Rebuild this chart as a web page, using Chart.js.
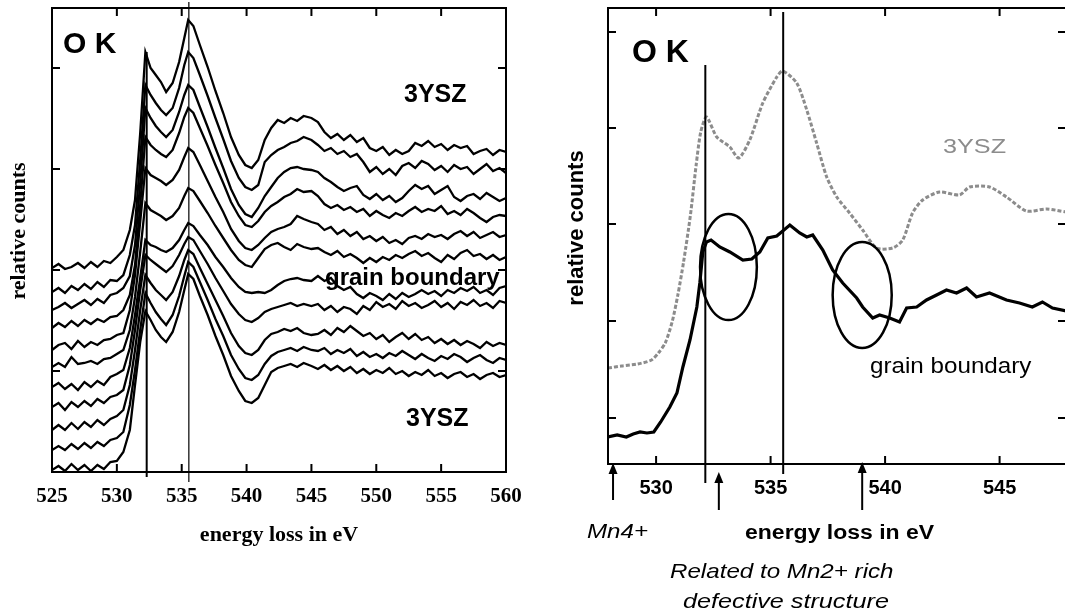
<!DOCTYPE html>
<html>
<head>
<meta charset="utf-8">
<script src="https://cdn.jsdelivr.net/npm/chart.js@4.4.1/dist/chart.umd.min.js"></script>
<style>
  html, body { margin: 0; padding: 0; background: #fff; overflow: hidden; width: 1065px; height: 615px; }
  #lineScan { position: absolute; left: 0; top: 0; }
  #compare { position: absolute; left: 550px; top: 0; }
</style>
</head>
<body>
<canvas id="lineScan" width="540" height="560"></canvas>
<canvas id="compare" width="520" height="615"></canvas>
<script>
// O K edge, line scan across the boundary (energy in eV, relative counts)
const energyGrid = [525, 525.5, 526, 526.5, 527, 527.5, 528, 528.5, 529, 529.5, 530, 530.5,
  531, 531.4, 531.8, 532.2, 532.6, 533, 533.4, 533.8, 534.3, 534.8, 535.2, 535.5,
  535.9, 536.4, 537, 537.6, 538.2, 538.8, 539.4, 539.9, 540.4,
  540.9, 541.4, 541.9, 542.4, 542.9, 543.4, 543.9, 544.4, 545,
  545.5, 546, 546.5, 547, 547.5, 548, 548.5, 549, 549.5, 550,
  550.5, 551, 551.5, 552, 552.5, 553, 553.5, 554, 554.5, 555,
  555.5, 556, 556.5, 557, 557.5, 558, 558.5, 559, 559.5, 560];

const scan1 = [232, 236, 231, 233, 237, 232, 238, 233, 239, 237, 243, 250, 270, 300, 367, 448, 432, 425, 418, 408, 417, 438, 462, 480, 474, 455, 433, 409, 387, 363, 345, 335, 332, 340, 360, 372, 380, 377, 382, 379, 384, 382,
  378, 368, 362, 366, 360, 365, 358, 362, 352, 349, 353, 345, 350, 346, 349, 357, 354, 359, 353, 356, 350, 355, 352, 354, 346, 349, 351, 345, 350, 348];
const scan2 = [208, 212, 207, 214, 210, 216, 211, 218, 213, 220, 219, 225, 245, 275, 340, 415, 405, 397, 390, 385, 392, 412, 435, 448, 442, 425, 404, 382, 361, 339, 322, 313, 310, 315, 338, 345, 350, 353, 357, 359, 363, 360,
  355, 349, 352, 346, 349, 343, 346, 338, 328, 333, 326, 331, 325, 334, 337, 332, 339, 336, 330, 334, 328, 335, 331, 333, 326, 331, 336, 329, 332, 327];
const scan3 = [190, 193, 197, 192, 196, 200, 195, 201, 197, 205, 207, 212, 224, 255, 317, 392, 382, 374, 368, 363, 370, 388, 405, 415, 410, 393, 373, 352, 332, 311, 295, 286, 283, 292, 304, 313, 322, 328, 332, 333, 331, 330,
  328, 322, 318, 313, 309, 312, 314, 305, 301, 306, 300, 304, 298, 302, 309, 315, 311, 314, 306, 310, 314, 303, 299, 304, 306, 301, 307, 303, 299, 302];
const scan4 = [172, 177, 173, 179, 174, 180, 176, 181, 178, 183, 184, 190, 205, 235, 295, 363, 355, 350, 346, 343, 350, 367, 383, 392, 387, 372, 354, 335, 317, 298, 284, 275, 273, 279, 288, 294, 298, 303, 306, 311, 308, 309,
  304, 296, 292, 295, 290, 293, 288, 291, 284, 289, 285, 282, 287, 284, 289, 293, 288, 291, 289, 294, 286, 289, 285, 291, 287, 282, 278, 283, 285, 284];
const scan5 = [150, 155, 157, 151, 159, 153, 158, 155, 160, 161, 165, 167, 190, 225, 278, 332, 325, 322, 319, 315, 320, 330, 343, 352, 348, 335, 319, 303, 288, 271, 259, 252, 250, 255, 262, 268, 271, 273, 276, 284, 281, 278,
  276, 270, 273, 266, 270, 264, 268, 261, 264, 259, 263, 257, 260, 256, 262, 264, 261, 266, 263, 265, 261, 266, 269, 264, 268, 262, 265, 268, 263, 265];
const scan6 = [133, 137, 133, 143, 136, 137, 139, 136, 141, 142, 146, 150, 170, 203, 248, 297, 290, 287, 284, 280, 284, 292, 304, 312, 309, 299, 287, 274, 262, 250, 240, 235, 233, 242, 251, 255, 257, 253, 250, 256, 253, 251,
  252, 248, 245, 249, 243, 246, 242, 237, 242, 238, 243, 240, 245, 242, 246, 249, 244, 247, 242, 238, 245, 241, 247, 250, 244, 246, 241, 245, 240, 243];
const scan7 = [113, 117, 111, 116, 110, 118, 113, 119, 115, 123, 126, 130, 152, 185, 222, 260, 255, 253, 250, 248, 252, 260, 270, 277, 274, 265, 255, 243, 233, 222, 213, 208, 207, 208, 207, 210, 215, 219, 221, 222, 220, 219,
  224, 219, 222, 214, 210, 213, 206, 202, 207, 204, 200, 206, 201, 207, 203, 206, 210, 206, 209, 204, 210, 207, 212, 209, 213, 207, 210, 205, 212, 214];
const scan8 = [93, 97, 90, 98, 93, 99, 94, 101, 97, 103, 105, 110, 135, 170, 210, 245, 240, 236, 232, 228, 234, 245, 256, 263, 260, 249, 236, 222, 209, 196, 186, 180, 178, 182, 188, 191, 193, 195, 197, 194, 196, 194,
  196, 190, 194, 188, 193, 191, 186, 194, 190, 198, 193, 196, 191, 199, 194, 197, 192, 195, 199, 193, 197, 191, 198, 195, 200, 194, 197, 192, 199, 197];
const scan9 = [70, 75, 70, 77, 71, 78, 73, 80, 75, 81, 84, 90, 115, 150, 190, 225, 217, 210, 205, 200, 208, 224, 240, 250, 246, 232, 216, 200, 184, 167, 154, 147, 145, 150, 160, 166, 168, 171, 169, 172, 167, 165,
  166, 170, 165, 172, 168, 174, 169, 164, 167, 161, 165, 158, 163, 167, 161, 166, 160, 163, 157, 161, 156, 160, 155, 159, 156, 152, 158, 154, 157, 155];
const scan10 = [50, 54, 50, 56, 51, 57, 52, 58, 54, 60, 62, 68, 95, 130, 170, 207, 197, 188, 181, 175, 185, 204, 224, 238, 233, 218, 200, 181, 164, 145, 131, 122, 120, 125, 136, 144, 148, 150, 152, 149, 153, 150,
  149, 152, 146, 150, 147, 151, 144, 148, 143, 146, 142, 147, 144, 149, 145, 141, 146, 142, 139, 144, 141, 146, 143, 138, 142, 145, 140, 137, 142, 140];
const scan11 = [30, 34, 29, 36, 30, 35, 29, 35, 31, 38, 39, 48, 70, 115, 158, 189, 180, 170, 163, 158, 168, 188, 210, 226, 221, 204, 185, 164, 145, 124, 109, 99, 97, 102, 115, 128, 132, 134, 136, 133, 137, 134,
  131, 135, 130, 134, 129, 133, 127, 131, 126, 130, 127, 132, 126, 129, 124, 128, 125, 130, 124, 127, 122, 126, 128, 123, 126, 121, 125, 127, 123, 125];
const scans = [scan1, scan2, scan3, scan4, scan5, scan6, scan7, scan8, scan9, scan10, scan11];

// 3YSZ reference spectrum and grain boundary spectrum
const yszEnergy = [527.9, 528.5, 529.2, 529.8, 530.1, 530.4, 530.7, 530.95, 531.2, 531.5, 531.75, 531.95, 532.2, 532.65, 533.22, 533.61, 534.09, 534.66, 535.27, 535.53, 536.14, 536.58, 537.01, 537.45, 537.89, 538.45, 539.02, 539.63, 540.33, 540.77, 541.2, 541.64, 542.38, 543.25, 543.69, 544.56, 545.3, 546.17, 547.05, 547.9];
const yszCounts = [132, 134, 136, 140, 147, 157, 178, 205, 238, 285, 335, 368, 383, 363, 353, 342, 360, 397, 423, 429, 417, 390, 357, 323, 303, 287, 270, 252, 252, 260, 287, 300, 308, 305, 313, 313, 303, 289, 291, 288];
const gbEnergy = [527.9, 528.3, 528.7, 529.0, 529.3, 529.6, 529.9, 530.2, 530.6, 530.91, 531.17, 531.48, 531.78, 531.91, 532.04, 532.2, 532.4, 532.78, 533.22, 533.79, 534.18, 534.53, 534.88, 535.27, 535.84, 536.27, 536.58, 536.84, 537.28, 537.71, 538.15, 538.76, 539.02, 539.46, 539.76, 540.2, 540.63, 540.94, 541.38, 541.81, 542.25, 542.68, 543.12, 543.56, 543.99, 544.56, 545.3, 545.87, 546.43, 546.87, 547.31, 547.9];
const gbCounts = [63, 65, 63, 66, 68, 67, 68, 78, 93, 107, 133, 160, 193, 217, 248, 258, 260, 253, 248, 240, 241, 248, 262, 264, 275, 267, 263, 265, 250, 230, 217, 202, 193, 182, 185, 182, 178, 192, 193, 200, 205, 210, 207, 212, 203, 207, 200, 197, 193, 198, 192, 189];

// axis ticks
const scanXTicks = [525, 530, 535, 540, 545, 550, 555, 560];
const scanYTicks = [28, 129, 230, 331, 432];
const compareXTicks = [530, 535, 540, 545];
const compareYTicks = [82, 179, 276, 372, 468];

const SANS = '"Liberation Sans", Arial, sans-serif';
const SERIF = '"Liberation Serif", "Times New Roman", serif';

function toPoints(xs, ys) {
  return xs.map((x, i) => ({ x: x, y: ys[i] }));
}

function fixTicks(values) {
  return scale => { scale.ticks = values.map(v => ({ value: v })); };
}

function drawLabel(ctx, t) {
  ctx.save();
  ctx.font = t.font;
  ctx.fillStyle = t.color || '#000';
  ctx.textAlign = t.align || 'left';
  ctx.textBaseline = t.baseline || 'alphabetic';
  ctx.translate(t.x, t.y);
  if (t.rotate) ctx.rotate(t.rotate * Math.PI / 180);
  ctx.scale(t.sx || 1, 1);
  ctx.fillText(t.text, 0, 0);
  ctx.restore();
}

// frame with inward ticks, marker lines, ellipses, arrows and free labels
const panelDecor = {
  id: 'panelDecor',
  afterDraw(chart, args, opts) {
    const ctx = chart.ctx;
    const { left, right, top, bottom } = chart.chartArea;
    const xs = chart.scales.x, ys = chart.scales.y;
    const len = opts.tickLength;
    ctx.save();
    ctx.strokeStyle = '#000';
    ctx.fillStyle = '#000';
    ctx.lineWidth = 2;
    ctx.beginPath();
    ctx.moveTo(left, top);
    ctx.lineTo(right, top);
    ctx.lineTo(right, bottom);
    ctx.lineTo(left, bottom);
    ctx.closePath();
    ctx.stroke();

    ctx.beginPath();
    xs.ticks.forEach(t => {
      const px = xs.getPixelForValue(t.value);
      if (px <= left + 1 || px >= right - 1) return;
      ctx.moveTo(px, bottom); ctx.lineTo(px, bottom - len);
      ctx.moveTo(px, top); ctx.lineTo(px, top + len);
    });
    ys.ticks.forEach(t => {
      const py = ys.getPixelForValue(t.value);
      ctx.moveTo(left, py); ctx.lineTo(left + len, py);
      ctx.moveTo(right, py); ctx.lineTo(right - len, py);
    });
    ctx.stroke();

    (opts.markers || []).forEach(m => {
      const px = xs.getPixelForValue(m.x);
      ctx.lineWidth = m.width;
      ctx.beginPath();
      ctx.moveTo(px, ys.getPixelForValue(m.from));
      ctx.lineTo(px, ys.getPixelForValue(m.to));
      ctx.stroke();
    });

    (opts.ellipses || []).forEach(e => {
      const cx = xs.getPixelForValue(e.x);
      const cy = ys.getPixelForValue(e.y);
      const rx = Math.abs(xs.getPixelForValue(e.x + e.rx) - cx);
      const ry = Math.abs(ys.getPixelForValue(e.y + e.ry) - cy);
      ctx.lineWidth = 2.5;
      ctx.beginPath();
      ctx.ellipse(cx, cy, rx, ry, 0, 0, Math.PI * 2);
      ctx.stroke();
    });

    (opts.arrows || []).forEach(a => {
      const px = xs.getPixelForValue(a.x);
      ctx.lineWidth = 2;
      ctx.beginPath();
      ctx.moveTo(px, a.tail);
      ctx.lineTo(px, a.tip + 8);
      ctx.stroke();
      ctx.beginPath();
      ctx.moveTo(px, a.tip);
      ctx.lineTo(px - 4.5, a.tip + 11);
      ctx.lineTo(px + 4.5, a.tip + 11);
      ctx.closePath();
      ctx.fill();
    });
    ctx.restore();

    (opts.labels || []).forEach(t => drawLabel(ctx, t));
  }
};

const baseOptions = {
  responsive: false,
  animation: false,
  events: [],
  plugins: { legend: { display: false }, tooltip: { enabled: false } }
};

// left panel: line scan
new Chart(document.getElementById('lineScan'), {
  type: 'line',
  data: {
    datasets: scans.map(s => ({
      data: toPoints(energyGrid, s),
      borderColor: '#000',
      borderWidth: 2.3,
      pointRadius: 0,
      tension: 0,
      fill: false
    }))
  },
  options: {
    ...baseOptions,
    layout: { padding: { left: 0, right: 34, top: 8, bottom: 0 } },
    scales: {
      x: {
        type: 'linear', min: 525, max: 560,
        afterBuildTicks: fixTicks(scanXTicks),
        afterFit: s => { s.height = 88; },
        grid: { display: false }, border: { display: false },
        ticks: { color: '#000', padding: 4, font: { family: SERIF, size: 21, weight: 'bold' } },
        title: { display: true, text: 'energy loss in eV', color: '#000', padding: { top: 0, bottom: 11 },
                 font: { family: SERIF, size: 22, weight: 'bold' } }
      },
      y: {
        min: 28, max: 492,
        afterBuildTicks: fixTicks(scanYTicks),
        afterFit: s => { s.width = 52; },
        grid: { display: false }, border: { display: false },
        ticks: { display: false }
      }
    },
    plugins: {
      ...baseOptions.plugins,
      panelDecor: {
        tickLength: 8,
        markers: [
          { x: 532.3, from: 448, to: 23, width: 2 },
          { x: 535.55, from: 498, to: 18, width: 1.2 }
        ],
        labels: [
          { text: 'O K', x: 63, y: 53, font: 'bold 30px ' + SANS },
          { text: '3YSZ', x: 404, y: 102, font: 'bold 25px ' + SANS },
          { text: 'grain boundary', x: 325, y: 285, font: 'bold 24px ' + SANS },
          { text: '3YSZ', x: 406, y: 426, font: 'bold 25px ' + SANS },
          { text: 'relative counts', x: 19, y: 231, rotate: -90, align: 'center', baseline: 'middle',
            font: 'bold 22px ' + SERIF }
        ]
      }
    }
  },
  plugins: [panelDecor]
});

// right panel: 3YSZ against grain boundary
new Chart(document.getElementById('compare'), {
  type: 'line',
  data: {
    datasets: [
      { data: toPoints(yszEnergy, yszCounts), borderColor: '#8c8c8c', borderWidth: 3, borderDash: [4, 2],
        pointRadius: 0, tension: 0.25, fill: false },
      { data: toPoints(gbEnergy, gbCounts), borderColor: '#000', borderWidth: 3.2,
        pointRadius: 0, tension: 0, fill: false }
    ]
  },
  options: {
    ...baseOptions,
    layout: { padding: { left: 0, right: 4, top: 8, bottom: 0 } },
    scales: {
      x: {
        type: 'linear', min: 527.9, max: 547.9,
        afterBuildTicks: fixTicks(compareXTicks),
        afterFit: s => { s.height = 151; },
        grid: { display: false }, border: { display: false },
        ticks: { color: '#000', padding: 4, font: { family: SANS, size: 20, weight: 'bold' } }
      },
      y: {
        min: 36, max: 492,
        afterBuildTicks: fixTicks(compareYTicks),
        afterFit: s => { s.width = 58; },
        grid: { display: false }, border: { display: false },
        ticks: { display: false }
      }
    },
    plugins: {
      ...baseOptions.plugins,
      panelDecor: {
        tickLength: 8,
        markers: [
          { x: 532.15, from: 435, to: 17, width: 2 },
          { x: 535.55, from: 488, to: 26, width: 2 }
        ],
        ellipses: [
          { x: 533.16, y: 233, rx: 1.24, ry: 53 },
          { x: 539.0, y: 205, rx: 1.29, ry: 53 }
        ],
        arrows: [
          { x: 528.12, tip: 463, tail: 500 },
          { x: 532.74, tip: 472, tail: 510 },
          { x: 539.0, tip: 462, tail: 510 }
        ],
        labels: [
          { text: 'O K', x: 82, y: 62, font: 'bold 32px ' + SANS },
          { text: '3YSZ', x: 393, y: 153, font: '21px ' + SANS, color: '#8c8c8c', sx: 1.2 },
          { text: 'grain boundary', x: 320, y: 373, font: '22px ' + SANS, sx: 1.1 },
          { text: 'relative counts', x: 27, y: 228, rotate: -90, align: 'center', baseline: 'middle',
            font: 'bold 22px ' + SANS },
          { text: 'Mn4+', x: 37, y: 538, font: 'italic 21px ' + SANS, sx: 1.15 },
          { text: 'energy loss in eV', x: 195, y: 539, font: 'bold 20px ' + SANS, sx: 1.15 },
          { text: 'Related to Mn2+ rich', x: 120, y: 578, font: 'italic 21px ' + SANS, sx: 1.15 },
          { text: 'defective structure', x: 133, y: 608, font: 'italic 21px ' + SANS, sx: 1.2 }
        ]
      }
    }
  },
  plugins: [panelDecor]
});
</script>
</body>
</html>
